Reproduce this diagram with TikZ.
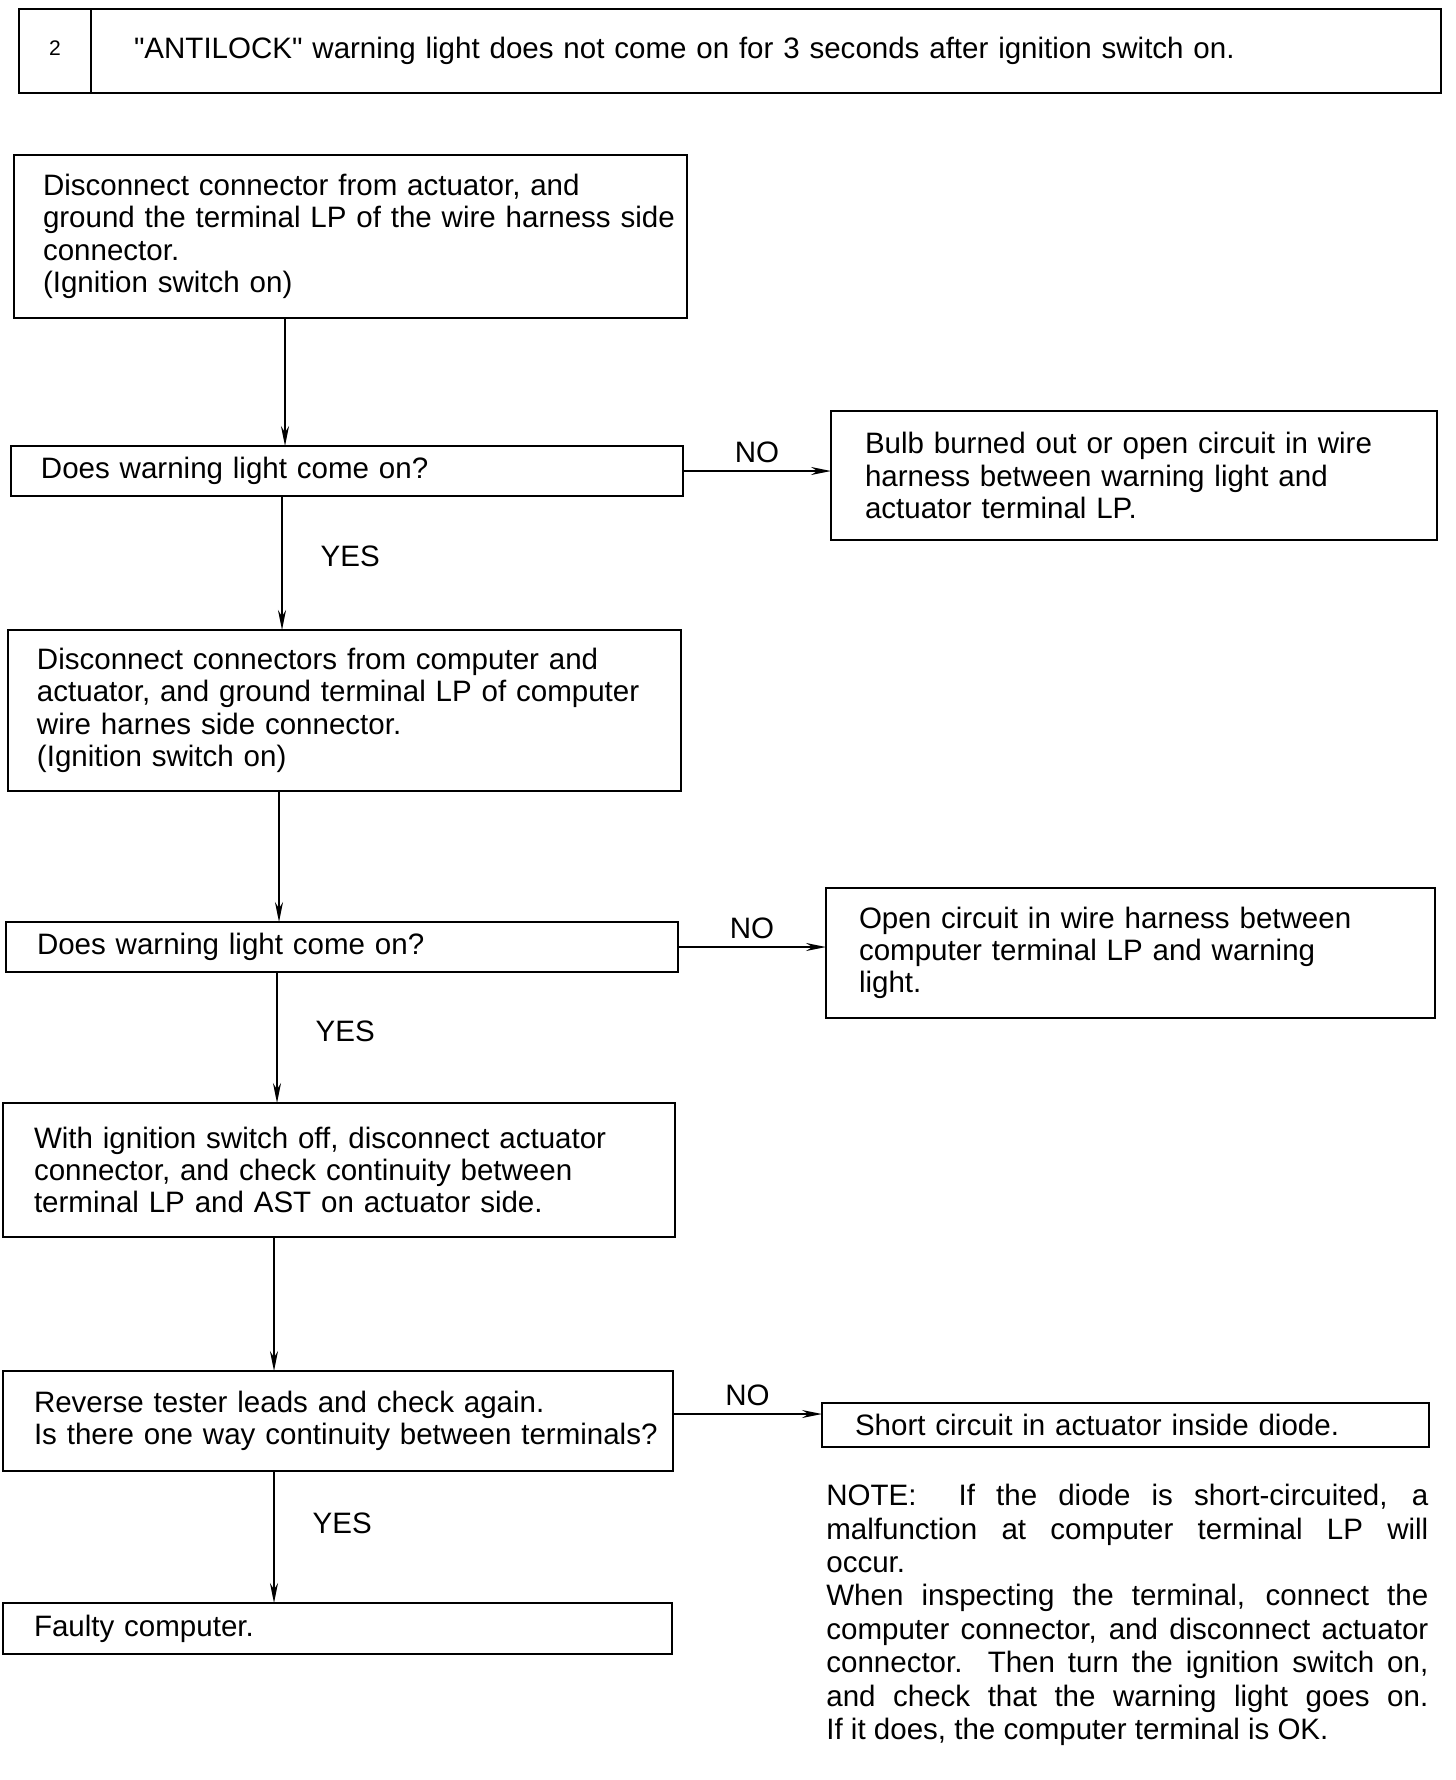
\documentclass[tikz,border=0pt]{standalone}
\usepackage{fontspec}
\setmainfont{Liberation Sans}
\usetikzlibrary{arrows.meta,positioning}

\begin{document}
\begin{tikzpicture}[x=1mm, y=-1mm,
    font=\fontsize{16.8}{18.4}\selectfont,
    box/.style={draw, line width=1.1pt, anchor=north west, align=left,
                inner xsep=0pt, inner ysep=0pt, outer sep=0pt},
    pad/.style={execute at begin node={\leftskip=#1\relax}},
    flow/.style={line width=0.9pt, -{Stealth[length=4mm,width=1.6mm]}},
    yes/.style={right, xshift=6.4mm, pos=0.45},
    no/.style={above, midway, yshift=0.4mm}]
  \useasboundingbox (0,0) rectangle (291.2,356);

  % heading
  \node[box, align=center, minimum width=14.4mm, minimum height=16.8mm,
        font=\fontsize{12}{14}\selectfont] (hnum) at (3.8,1.8) {\raisebox{1.2mm}{2}};
  \node[box, right=0pt of hnum, text width=270mm, minimum height=16.8mm, pad=8.6mm] (htitle)
    {\textquotedbl ANTILOCK\textquotedbl\ warning light does not come on for 3 seconds after ignition switch on.};

  % left column
  \node[box, text width=134.6mm, minimum height=32.6mm, pad=5.8mm] (b1) at (2.8,31)
    {Disconnect connector from actuator, and\\ ground the terminal LP of the wire harness side\\ connector.\\ (Ignition switch on)};
  \node[box, text width=134.4mm, minimum height=10mm, pad=6mm] (b2) at (2.2,89.2)
    {Does warning light come on?};
  \node[box, text width=134.6mm, minimum height=32.2mm, pad=5.8mm] (b3) at (1.6,126)
    {Disconnect connectors from computer and\\ actuator, and ground terminal LP of computer\\ wire harnes side connector.\\ (Ignition switch on)};
  \node[box, text width=134.4mm, minimum height=10mm, pad=6.2mm] (b4) at (1.2,184.4)
    {Does warning light come on?};
  \node[box, text width=134.4mm, minimum height=26.8mm, pad=6.2mm] (b5) at (0.6,220.6)
    {With ignition switch off, disconnect actuator\\ connector, and check continuity between\\ terminal LP and AST on actuator side.};
  \node[box, text width=134mm, minimum height=20mm, pad=6.2mm] (b6) at (0.6,274.2)
    {Reverse tester leads and check again.\\ Is there one way continuity between terminals?};
  \node[box, text width=133.8mm, minimum height=10.2mm, pad=6.2mm] (b7) at (0.6,320.6)
    {Faulty computer.};

  % right column
  \node[box, text width=121.2mm, minimum height=25.8mm, pad=6.8mm] (r1) at (166.2,82.2)
    {Bulb burned out or open circuit in wire\\ harness between warning light and\\ actuator terminal LP.};
  \node[box, text width=121.8mm, minimum height=26mm, pad=6.6mm] (r2) at (165.2,177.6)
    {Open circuit in wire harness between\\ computer terminal LP and warning\\ light.};
  \node[box, text width=121.4mm, minimum height=8.8mm, pad=6.6mm] (r3) at (164.4,280.6)
    {Short circuit in actuator inside diode.};

  \node[anchor=north west, text width=120.4mm, align=justify, inner sep=0pt,
        font=\fontsize{16.8}{19}\selectfont] (note) at (165.2,296.8)
    {\hyphenpenalty=10000 \tolerance=10000
     NOTE:\ \ If the diode is short-circuited, a\linebreak
     malfunction at computer terminal LP will\linebreak
     occur.\par
     When inspecting the terminal, connect the\linebreak
     computer connector, and disconnect actuator\linebreak
     connector. Then turn the ignition switch on,\linebreak
     and check that the warning light goes on.\linebreak
     If it does, the computer terminal is OK.};

  % taps on the left column
  \coordinate (t1) at ([xshift=54.2mm]b1.south west);
  \coordinate (t2) at ([xshift=54.2mm]b2.south west);
  \coordinate (t3) at ([xshift=54.2mm]b3.south west);
  \coordinate (t4) at ([xshift=54.2mm]b4.south west);
  \coordinate (t5) at ([xshift=54.2mm]b5.south west);
  \coordinate (t6) at ([xshift=54.2mm]b6.south west);

  \path[flow]
    (t1) edge (t1 |- b2.north)
    (t2) edge node[yes] {YES} (t2 |- b3.north)
    (t3) edge (t3 |- b4.north)
    (t4) edge node[yes] {YES} (t4 |- b5.north)
    (t5) edge (t5 |- b6.north)
    (t6) edge node[yes, pos=0.4] {YES} (t6 |- b7.north)
    (b2.east) edge node[no] {NO} (b2.east -| r1.west)
    (b4.east) edge node[no] {NO} (b4.east -| r2.west)
    ([yshift=1.4mm]b6.east) edge node[no] {NO} ([yshift=1.4mm]b6.east -| r3.west);
\end{tikzpicture}
\end{document}
